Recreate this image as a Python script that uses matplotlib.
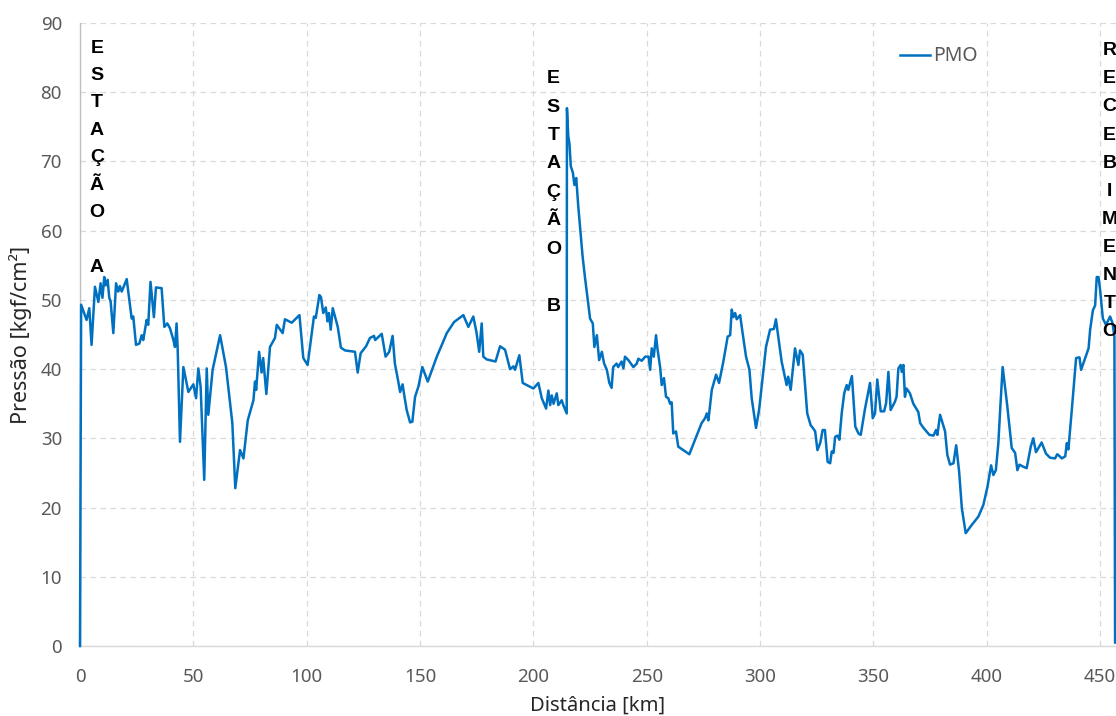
import matplotlib
matplotlib.use("Agg")
import matplotlib.pyplot as plt

# Pressure profile along the pipeline (PMO)
distance_km = [
    0.0, 0.5, 2.9, 4.1, 5.1, 6.6, 8.1, 9.1, 9.9, 10.7, 11.3, 12.2, 12.9, 13.5, 14.7,
    15.9, 16.9, 17.6, 18.4, 20.6, 22.8, 23.5, 24.7, 26.2, 27.2, 27.9, 29.4, 30.1, 31.1,
    32.6, 33.5, 36.0, 37.2, 38.5, 39.7, 41.2, 41.9, 42.6, 43.1, 44.1, 45.6, 47.8, 50.0,
    51.2, 52.2, 53.2, 54.8, 55.9, 56.6, 58.5, 61.8, 64.4, 67.2, 68.5, 70.6, 72.1, 74.0,
    76.5, 77.2, 77.7, 79.0, 80.1, 80.8, 82.2, 83.8, 86.0, 86.8, 89.4, 90.4, 93.4, 96.8,
    98.5, 100.4, 103.2, 104.0, 105.6, 106.3, 107.3, 108.4, 109.2, 109.8, 110.6, 111.5,
    113.7, 115.1, 116.9, 121.3, 122.5, 123.8, 126.2, 127.9, 129.7, 130.2, 133.1, 134.8,
    136.4, 137.9, 138.9, 140.4, 141.2, 142.3, 142.9, 144.1, 145.6, 146.6, 147.8, 149.3,
    151.0, 153.4, 157.4, 161.8, 165.0, 169.1, 171.3, 173.5, 174.9, 176.1, 177.2, 177.9,
    179.4, 183.3, 185.3, 187.5, 189.7, 191.2, 191.9, 193.8, 195.3, 200.0, 202.2, 203.7,
    205.6, 206.6, 207.4, 208.1, 208.9, 210.3, 211.0, 212.5, 213.2, 214.7, 214.8, 215.4,
    215.9, 216.5, 217.4, 218.1, 218.9, 219.8, 221.7, 222.7, 225.0, 226.2, 226.9, 228.0,
    229.0, 230.2, 231.2, 232.4, 233.5, 234.5, 235.2, 236.7, 237.4, 238.9, 239.7, 240.4,
    241.9, 244.1, 245.6, 246.3, 247.8, 249.3, 250.8, 251.5, 252.2, 253.1, 254.1, 254.7,
    255.9, 256.6, 257.6, 258.5, 259.5, 260.3, 261.0, 261.7, 262.9, 263.9, 268.8, 274.2,
    275.7, 276.5, 277.2, 278.7, 280.6, 281.9, 283.8, 285.7, 286.8, 287.5, 288.2, 289.0,
    289.7, 291.2, 291.9, 293.8, 295.3, 296.3, 298.2, 299.6, 302.6, 303.6, 304.4, 306.1,
    307.0, 307.6, 309.5, 311.7, 312.4, 313.5, 315.4, 316.9, 317.6, 318.8, 320.8, 322.3,
    323.5, 324.3, 325.3, 326.5, 327.6, 328.6, 329.8, 330.9, 331.6, 332.4, 333.1, 334.1,
    335.0, 336.0, 337.1, 338.2, 338.9, 340.5, 342.0, 343.4, 344.4, 346.3, 348.5, 349.7,
    350.7, 351.7, 353.2, 354.7, 355.6, 356.6, 357.6, 359.5, 360.2, 361.0, 362.0, 362.5,
    363.2, 363.9, 364.6, 366.1, 367.6, 369.8, 370.6, 372.1, 374.7, 376.5, 377.6, 378.2,
    379.4, 381.6, 382.6, 383.8, 385.3, 386.5, 387.8, 389.0, 390.7, 393.4, 396.3, 398.5,
    400.3, 401.9, 402.9, 404.0, 405.1, 405.9, 407.0, 409.0, 411.0, 412.5, 413.5, 414.4,
    416.1, 417.6, 419.4, 420.5, 421.7, 424.2, 426.1, 427.9, 430.1, 431.1, 432.2, 433.1,
    434.6, 435.3, 436.0, 437.5, 439.4, 440.9, 441.6, 443.4, 444.9, 445.6, 446.8, 447.8,
    448.5, 449.3, 450.0, 451.2, 452.6, 454.4, 455.5, 456.3, 456.6,
]
pressure_kgf = [
    0.0, 49.3, 47.1, 48.8, 43.5, 51.9, 49.7, 52.4, 50.3, 53.3, 52.1, 52.9, 50.3, 49.8, 45.2,
    52.4, 51.2, 52.0, 51.2, 53.0, 47.3, 47.6, 43.5, 43.7, 44.9, 44.2, 47.1, 46.4, 52.6,
    47.5, 51.8, 51.7, 46.1, 46.6, 45.9, 44.2, 43.2, 46.6, 42.8, 29.5, 40.3, 36.7, 37.8,
    35.8, 40.1, 37.5, 24.0, 40.1, 33.4, 39.9, 44.9, 40.3, 32.2, 22.8, 28.3, 27.1, 32.6,
    35.5, 38.2, 37.0, 42.5, 39.5, 41.6, 36.4, 43.2, 44.5, 46.4, 45.2, 47.2, 46.7, 47.8,
    41.6, 40.6, 47.6, 47.4, 50.7, 50.4, 48.1, 48.9, 46.9, 48.1, 45.7, 48.8,
    46.1, 43.1, 42.7, 42.5, 39.5, 42.3, 43.3, 44.5, 44.8, 44.2, 45.1, 41.8,
    42.5, 44.8, 40.8, 38.2, 36.7, 37.8, 36.5, 34.1, 32.3, 32.4, 36.0, 37.5,
    40.3, 38.2, 41.8, 45.2, 46.8, 47.8, 46.1, 47.6, 45.3, 42.5, 46.6, 41.8,
    41.4, 41.1, 43.3, 42.8, 40.0, 40.4, 39.9, 42.0, 38.0, 37.2, 38.0, 35.8,
    34.3, 36.9, 34.8, 36.2, 35.0, 36.5, 34.8, 35.5, 34.8, 33.6, 77.7, 73.6,
    72.6, 69.3, 68.4, 66.6, 67.6, 63.5, 56.3, 53.4, 47.3, 46.6, 43.2, 44.9,
    41.3, 42.5, 40.8, 39.9, 38.0, 37.3, 40.3, 40.8, 40.3, 41.1, 40.1, 41.8,
    41.3, 40.3, 40.8, 41.5, 41.2, 41.8, 41.8, 39.9, 43.0, 41.8, 44.9, 43.0,
    40.3, 37.7, 38.7, 36.0, 35.8, 35.0, 35.2, 30.7, 31.0, 28.8, 27.7, 32.2,
    32.9, 33.6, 32.6, 37.0, 39.2, 38.0, 41.1, 44.7, 44.9, 48.6, 47.5, 48.1,
    47.2, 47.8, 46.1, 41.8, 39.9, 35.8, 31.5, 34.2, 43.2, 44.6, 45.7, 45.8,
    47.2, 45.7, 41.1, 37.7, 38.9, 37.0, 43.0, 40.6, 42.7, 42.1, 33.6, 31.9,
    31.4, 31.0, 28.3, 29.3, 31.2, 31.2, 26.6, 26.4, 28.1, 27.9, 30.2, 30.4,
    29.8, 33.6, 36.5, 37.7, 37.0, 39.0, 31.7, 30.7, 30.5, 34.3, 38.0, 32.9,
    33.6, 38.5, 33.9, 33.9, 35.1, 39.6, 34.1, 35.3, 36.0, 40.1, 40.6, 39.6,
    40.6, 36.0, 37.2, 36.5, 35.0, 33.8, 32.2, 31.5, 30.5, 30.4, 31.2, 30.5,
    33.4, 31.0, 27.6, 26.2, 26.4, 29.0, 25.2, 19.9, 16.3, 17.5, 18.7, 20.4,
    23.0, 26.1, 24.7, 25.4, 29.3, 34.1, 40.3, 34.8, 28.6, 27.9, 25.4, 26.2,
    25.9, 25.7, 28.8, 30.0, 28.0, 29.4, 27.8, 27.2, 27.1, 27.7, 27.4, 27.1,
    27.4, 29.3, 28.4, 34.1, 41.6, 41.7, 39.9, 41.6, 43.0, 45.7, 48.5, 49.2,
    53.3, 53.3, 51.4, 47.3, 46.4, 47.6, 46.6, 44.7, 0.5,
]

x_ticks = [0, 50, 100, 150, 200, 250, 300, 350, 400, 450]
y_ticks = [0, 10, 20, 30, 40, 50, 60, 70, 80, 90]

# Station annotations: label, x position in km, top of text in kgf/cm²
station_labels = ["ESTAÇÃO A", "ESTAÇÃO B", "RECEBIMENTO"]
station_x = [7.5, 208.8, 454.2]
station_top = [87.6, 83.2, 87.2]
station_spacing = [1.80, 1.88, 1.85]

series_name = "PMO"
line_color = "#0070C0"

plt.rcParams["font.family"] = ["Noto Sans", "DejaVu Sans"]

fig = plt.figure(figsize=(11.16, 7.16), dpi=100)
ax = fig.add_axes([80 / 1116, 70 / 716, 1036 / 1116, 623 / 716])

ax.plot(distance_km, pressure_kgf, color=line_color, linewidth=1.8,
        label=series_name, solid_joinstyle="round", zorder=3, clip_on=False)

ax.set_xlim(0, 457)
ax.set_ylim(0, 90)
ax.set_xticks(x_ticks)
ax.set_yticks(y_ticks)
ax.tick_params(axis="both", length=0, labelsize=13.5, colors="#595959")
ax.tick_params(axis="y", pad=13)
ax.tick_params(axis="x", pad=16)

ax.grid(True, color="#d9d9d9", linestyle=(0, (4.5, 3.5)), linewidth=0.9)
ax.set_axisbelow(True)
for side in ("top", "right"):
    ax.spines[side].set_visible(False)
ax.spines["left"].set_color("#bfbfbf")
ax.spines["bottom"].set_color("#d9d9d9")
ax.spines["left"].set_linewidth(1.0)
ax.spines["bottom"].set_linewidth(1.0)

ax.set_xlabel("Distância [km]", fontsize=14.5, color="#262626", labelpad=7)
ax.set_ylabel("Pressão [kgf/cm²]", fontsize=15.5, color="#262626", labelpad=6)

for label, xs, ytop, ls in zip(station_labels, station_x, station_top, station_spacing):
    letters = "\n".join(label)
    ax.text(xs, ytop, letters, ha="center", va="top", ma="center",
            fontsize=14, fontweight="bold", family="Liberation Sans",
            color="black", linespacing=ls, clip_on=False)

leg = ax.legend(loc="upper left", bbox_to_anchor=(0.784, 0.975), frameon=False,
                fontsize=14, handlelength=1.55, handletextpad=0.15,
                borderaxespad=0)
for t in leg.get_texts():
    t.set_color("#595959")

fig.savefig("out.png", dpi=100)
